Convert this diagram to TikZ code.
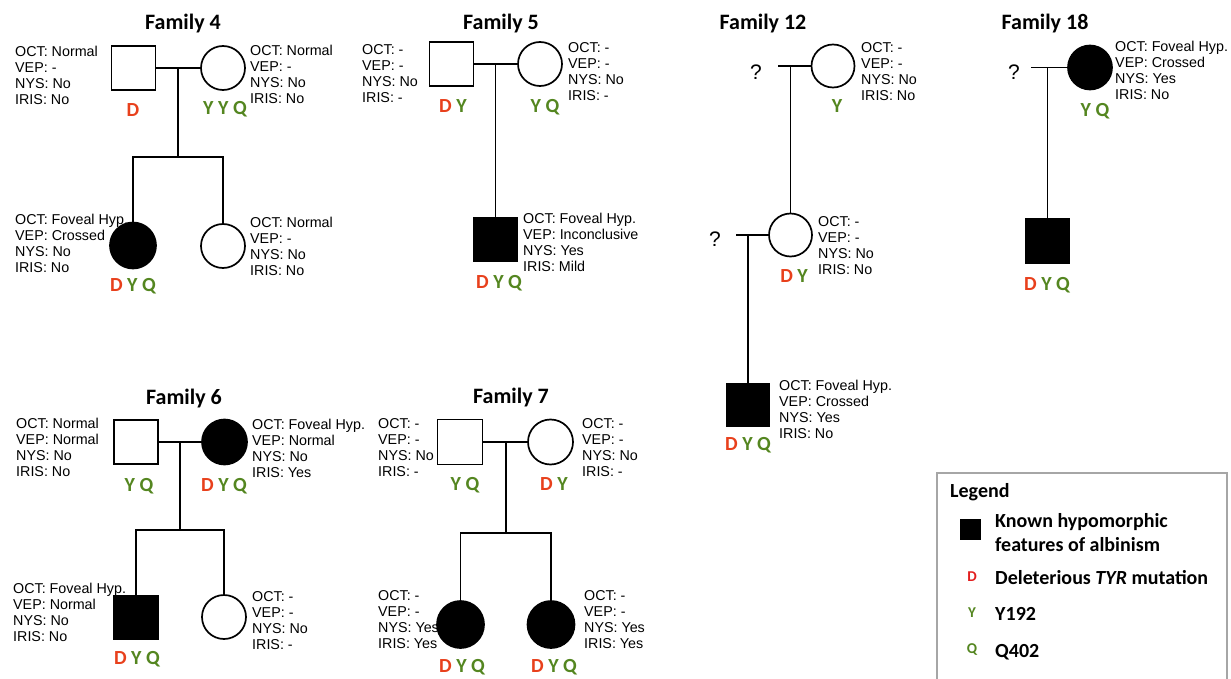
\documentclass[tikz,border=0pt]{standalone}
\usepackage{fontspec}
\setmainfont{Liberation Sans}
\newfontfamily\calib{Carlito}
\definecolor{dred}{RGB}{232,64,28}
\definecolor{dgreen}{RGB}{84,134,32}
\definecolor{lred}{RGB}{226,30,30}
\definecolor{lgray}{RGB}{166,166,166}
\newcommand{\gD}{\textcolor{dred}{D}}
\newcommand{\gY}{\textcolor{dgreen}{Y}}
\newcommand{\gQ}{\textcolor{dgreen}{Q}}
\newcommand{\info}[4]{OCT: #1\\VEP: #2\\NYS: #3\\IRIS: #4}
\begin{document}
\begin{tikzpicture}[x=1pt,y=-1pt,
  male/.style={draw, rectangle, minimum size=44pt, inner sep=0pt, line width=1.7pt},
  female/.style={draw, circle, minimum size=44pt, inner sep=0pt, line width=1.7pt},
  aff/.style={fill=black},
  link/.style={line width=1.5pt},
  info/.style={anchor=base west, inner sep=0pt, align=left, yshift=-48pt, font=\fontsize{14.3}{16}\selectfont},
  geno/.style={anchor=base, inner sep=0pt, font=\calib\bfseries\fontsize{20}{20}\selectfont},
  title/.style={anchor=base, inner sep=0pt, font=\calib\bfseries\fontsize{22}{22}\selectfont},
  qmark/.style={inner sep=0pt, font=\fontsize{21}{21}\selectfont},
  legtxt/.style={anchor=base west, inner sep=0pt, align=left, font=\calib\bfseries\fontsize{20}{24}\selectfont},
  legsm/.style={anchor=base, inner sep=0pt, font=\calib\bfseries\fontsize{15}{15}\selectfont}]
\useasboundingbox (0,0) rectangle (1231,679);

% ---------- Family 4 ----------
\node[title] (t4) at (183,30) {Family 4};
\node[info] (i4f) at (15,57) {\info{Normal}{-}{No}{No}};
\node[info] (i4m) at (250,56) {\info{Normal}{-}{No}{No}};
\node[info] (i4c1) at (15,224) {\info{Foveal Hyp.}{Crossed}{No}{No}};
\node[info] (i4c2) at (250,227) {\info{Normal}{-}{No}{No}};
\node[male] (f4f) at (133.5,68) {};
\node[female] (f4m) at (223,68) {};
\node[female,aff,minimum size=46pt] (f4c1) at (133,245.5) {};
\node[female] (f4c2) at (223,246) {};
\coordinate (j4) at (178,68);
\coordinate (s4) at (178,157);
\draw[link] (f4f) -- (f4m);
\draw[link] (j4) -- (s4);
\draw[link] (s4) -| (f4c1.north);
\draw[link] (s4) -| (f4c2.north);
\node[geno] (g4f) at (133,117) {\gD};
\node[geno] (g4m) at (225,115) {\gY\ \gY\ \gQ};
\node[geno] (g4c1) at (133,291) {\gD\ \gY\ \gQ};

% ---------- Family 5 ----------
\node[title] (t5) at (501,30) {Family 5};
\node[info] (i5f) at (362,55) {\info{-}{-}{No}{-}};
\node[info] (i5m) at (568,53) {\info{-}{-}{No}{-}};
\node[info] (i5c) at (523,223) {\info{Foveal Hyp.}{Inconclusive}{Yes}{Mild}};
\node[male] (f5f) at (451.5,64) {};
\node[female] (f5m) at (540,64) {};
\node[male,aff] (f5c) at (495.5,239.5) {};
\coordinate (j5) at (495.5,64);
\draw[link] (f5f) -- (f5m);
\draw[link] (j5) -- (f5c);
\node[geno] (g5f) at (453,113) {\gD\ \gY};
\node[geno] (g5m) at (545,113) {\gY\ \gQ};
\node[geno] (g5c) at (499,288) {\gD\ \gY\ \gQ};

% ---------- Family 12 ----------
\node[title] (t12) at (763,30) {Family 12};
\node[info] (i12a) at (861,53) {\info{-}{-}{No}{No}};
\node[info] (i12b) at (818,226) {\info{-}{-}{No}{No}};
\node[info] (i12c) at (779,390) {\info{Foveal Hyp.}{Crossed}{Yes}{No}};
\node[qmark] (q12a) at (756,72) {?};
\node[female,minimum size=43pt] (f12a) at (833,66) {};
\coordinate (q12al) at (778,66);
\draw[link] (q12al) -- (f12a);
\coordinate (j12a) at (790.5,66);
\node[female,minimum size=43pt] (f12b) at (790.5,235) {};
\draw[link] (j12a) -- (f12b);
\node[qmark] (q12b) at (715,239) {?};
\coordinate (q12bl) at (736,235);
\draw[link] (q12bl) -- (f12b);
\coordinate (j12b) at (748,235);
\node[male,aff,minimum size=43pt] (f12c) at (748,405) {};
\draw[link] (j12b) -- (f12c);
\node[geno] (g12a) at (837,113) {\gY};
\node[geno] (g12b) at (794,282) {\gD\ \gY};
\node[geno] (g12c) at (748,450) {\gD\ \gY\ \gQ};

% ---------- Family 18 ----------
\node[title] (t18) at (1045,30) {Family 18};
\node[info] (i18m) at (1115,52) {\info{Foveal Hyp.}{Crossed}{Yes}{No}};
\node[qmark] (q18) at (1014,72) {?};
\node[female,aff] (f18m) at (1090,67.5) {};
\coordinate (q18l) at (1031,67.5);
\draw[link] (q18l) -- (f18m);
\coordinate (j18) at (1047.5,67.5);
\node[male,aff] (f18c) at (1047.5,241) {};
\draw[link] (j18) -- (f18c);
\node[geno] (g18m) at (1095,117) {\gY\ \gQ};
\node[geno] (g18c) at (1047,290) {\gD\ \gY\ \gQ};

% ---------- Family 6 ----------
\node[title] (t6) at (184,404) {Family 6};
\node[info] (i6f) at (16,428) {\info{Normal}{Normal}{No}{No}};
\node[info] (i6m) at (252,429) {\info{Foveal Hyp.}{Normal}{No}{Yes}};
\node[info] (i6c1) at (13,593) {\info{Foveal Hyp.}{Normal}{No}{No}};
\node[info] (i6c2) at (252,601) {\info{-}{-}{No}{-}};
\node[male] (f6f) at (136,442) {};
\node[female,aff,minimum size=45pt] (f6m) at (224.5,442) {};
\node[male,aff] (f6c1) at (136,617.5) {};
\node[female] (f6c2) at (224,617) {};
\coordinate (j6) at (180,442);
\coordinate (s6) at (180,530);
\draw[link] (f6f) -- (f6m);
\draw[link] (j6) -- (s6);
\draw[link] (s6) -| (f6c1.north);
\draw[link] (s6) -| (f6c2.north);
\node[geno] (g6f) at (139,491) {\gY\ \gQ};
\node[geno] (g6m) at (224,491) {\gD\ \gY\ \gQ};
\node[geno] (g6c1) at (137,664) {\gD\ \gY\ \gQ};

% ---------- Family 7 ----------
\node[title] (t7) at (511,403) {Family 7};
\node[info] (i7f) at (378,428) {\info{-}{-}{No}{-}};
\node[info] (i7m) at (582,428) {\info{-}{-}{No}{-}};
\node[info] (i7c1) at (378,600) {\info{-}{-}{Yes}{Yes}};
\node[info] (i7c2) at (584,600) {\info{-}{-}{Yes}{Yes}};
\node[male,minimum size=45pt] (f7f) at (460,442) {};
\node[female,minimum size=45pt] (f7m) at (550.5,442) {};
\node[female,aff,minimum size=47pt] (f7c1) at (460.5,624.5) {};
\node[female,aff,minimum size=47pt] (f7c2) at (551,624.5) {};
\coordinate (j7) at (506,442);
\coordinate (s7) at (506,533);
\draw[link] (f7f) -- (f7m);
\draw[link] (j7) -- (s7);
\draw[link] (s7) -| (f7c1.north);
\draw[link] (s7) -| (f7c2.north);
\node[geno] (g7f) at (465,490) {\gY\ \gQ};
\node[geno] (g7m) at (554,490) {\gD\ \gY};
\node[geno] (g7c1) at (462,672) {\gD\ \gY\ \gQ};
\node[geno] (g7c2) at (554,672) {\gD\ \gY\ \gQ};

% ---------- Legend ----------
\draw[lgray, line width=2pt] (937,473) rectangle (1227,700);
\node[legtxt] (legt) at (950,497) {Legend};
\node[fill=black, minimum size=21pt, inner sep=0pt] (legsq) at (970,529) {};
\node[legtxt, yshift=-24pt] (leg1) at (995,527) {Known hypomorphic\\features of albinism};
\node[legsm] (legD) at (972,581) {\textcolor{lred}{D}};
\node[legtxt] (leg2) at (995,584) {Deleterious \textit{TYR} mutation};
\node[legsm] (legY) at (972,617) {\textcolor{dgreen}{Y}};
\node[legtxt] (leg3) at (995,620) {Y192};
\node[legsm] (legQ) at (972,653) {\textcolor{dgreen}{Q}};
\node[legtxt] (leg4) at (995,657) {Q402};
\end{tikzpicture}
\end{document}
